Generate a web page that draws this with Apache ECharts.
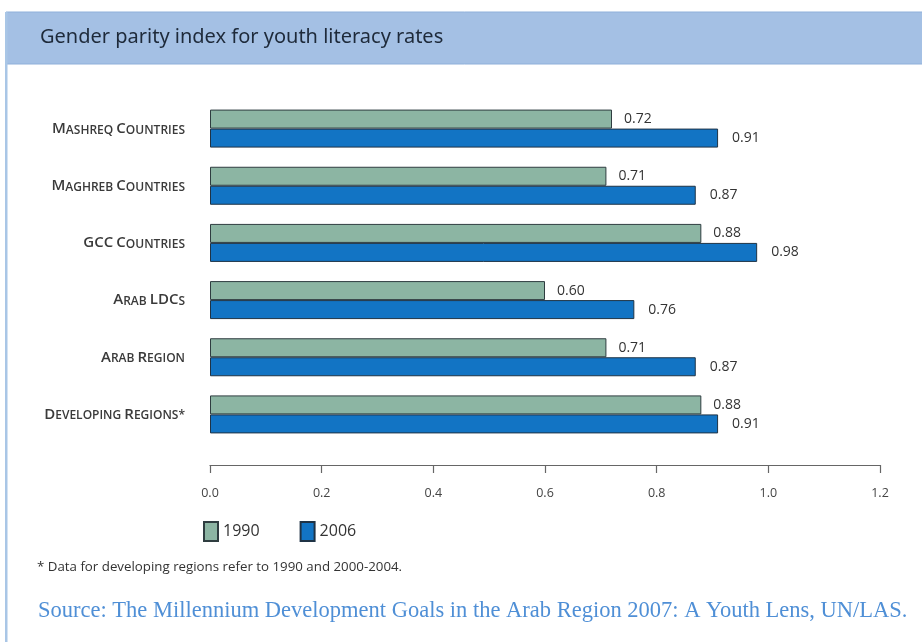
<!DOCTYPE html>
<html>
<head>
<meta charset="utf-8">
<script src="https://cdn.jsdelivr.net/npm/echarts@6/dist/echarts.min.js"></script>
<style>
html,body{margin:0;padding:0;background:#ffffff;}
#c{width:922px;height:642px;}
</style>
</head>
<body>
<div id="c"></div>
<script>
const categories = ["Mashreq Countries", "Maghreb Countries", "GCC Countries", "Arab LDCs", "Arab Region", "Developing Regions*"];
const values1990 = [0.72, 0.71, 0.88, 0.60, 0.71, 0.88];
const values2006 = [0.91, 0.87, 0.98, 0.76, 0.87, 0.91];
const seriesNames = ["1990", "2006"];
const xTicks = {min: 0, max: 1.2, interval: 0.2};
const titleText = "Gender parity index for youth literacy rates";
const footnoteText = "* Data for developing regions refer to 1990 and 2000-2004.";
const sourceText = "Source: The Millennium Development Goals in the Arab Region 2007: A Youth Lens, UN/LAS.";

function smallCaps(s) {
  let out = '';
  let cur = null, buf = '';
  for (const ch of s) {
    const big = ch === ch.toUpperCase() && ch !== ch.toLowerCase();
    const t = big ? 'a' : 'b';
    if (t !== cur && buf) { out += '{' + cur + '|' + buf + '}'; buf = ''; }
    cur = t; buf += ch.toUpperCase();
  }
  if (buf) out += '{' + cur + '|' + buf + '}';
  return out;
}

const chart = echarts.init(document.getElementById('c'), null, {renderer: 'canvas'});
const font = '"Open Sans", "Noto Sans", sans-serif';
chart.setOption({
  backgroundColor: '#ffffff',
  animation: false,
  graphic: [
    {type: 'rect', shape: {x: 6, y: 12, width: 920, height: 52}, style: {fill: '#a4c0e4', stroke: '#8fb0da', lineWidth: 1}, z: 0},
    {type: 'rect', shape: {x: 5, y: 12, width: 2.5, height: 640}, style: {fill: '#a9c6e6'}, z: 1},
    {type: 'text', left: 40, top: 27, style: {text: titleText, font: '20px "Noto Sans", sans-serif', fill: '#1e2a3a'}, z: 2},
    {type: 'text', left: 37, top: 561, style: {text: footnoteText, font: '13.3px "Open Sans", sans-serif', fill: '#333333'}, z: 2},
    {type: 'text', left: 38, top: 600, style: {text: sourceText, font: '22.5px "Liberation Serif", serif', fill: '#4f8fd6'}, z: 2}
  ],
  legend: {
    data: seriesNames,
    left: 198, top: 516,
    itemWidth: 14, itemHeight: 19, itemGap: 40,
    icon: 'rect',
    textStyle: {fontSize: 16, color: '#333', fontFamily: font}
  },
  grid: {left: 210, right: 42, top: 100, height: 343, containLabel: false},
  xAxis: {
    type: 'value', min: xTicks.min, max: xTicks.max, interval: xTicks.interval,
    offset: 22,
    axisLine: {show: true, lineStyle: {color: '#666', width: 1.2}},
    axisTick: {show: true, length: 8, lineStyle: {color: '#666', width: 1.2}},
    splitLine: {show: false},
    axisLabel: {margin: 22, fontSize: 12.5, color: '#444', fontFamily: font, formatter: v => v.toFixed(1)}
  },
  yAxis: {
    type: 'category', data: categories, inverse: true,
    axisLine: {show: false}, axisTick: {show: false},
    axisLabel: {
      margin: 25,
      formatter: v => smallCaps(v),
      rich: {
        a: {fontSize: 15, fontWeight: 600, color: '#3a3a3a', fontFamily: font},
        b: {fontSize: 12, fontWeight: 600, color: '#3a3a3a', fontFamily: font, padding: [3, 0, 0, 0]}
      }
    }
  },
  series: [
    {
      name: seriesNames[0], type: 'bar', data: values1990, barWidth: 19, barGap: '0%',
      itemStyle: {color: '#8cb5a3', borderColor: '#2f3d40', borderWidth: 1},
      label: {show: true, position: 'right', distance: 12, offset: [0, 0], fontSize: 14, fontWeight: 500, color: '#333', fontFamily: font, formatter: p => p.value.toFixed(2)}
    },
    {
      name: seriesNames[1], type: 'bar', data: values2006, barWidth: 19, barGap: '0%',
      itemStyle: {color: '#1274c4', borderColor: '#1f3345', borderWidth: 1},
      label: {show: true, position: 'right', distance: 14, offset: [0, 0], fontSize: 14, fontWeight: 500, color: '#333', fontFamily: font, formatter: p => p.value.toFixed(2)}
    }
  ]
});
</script>
</body>
</html>
